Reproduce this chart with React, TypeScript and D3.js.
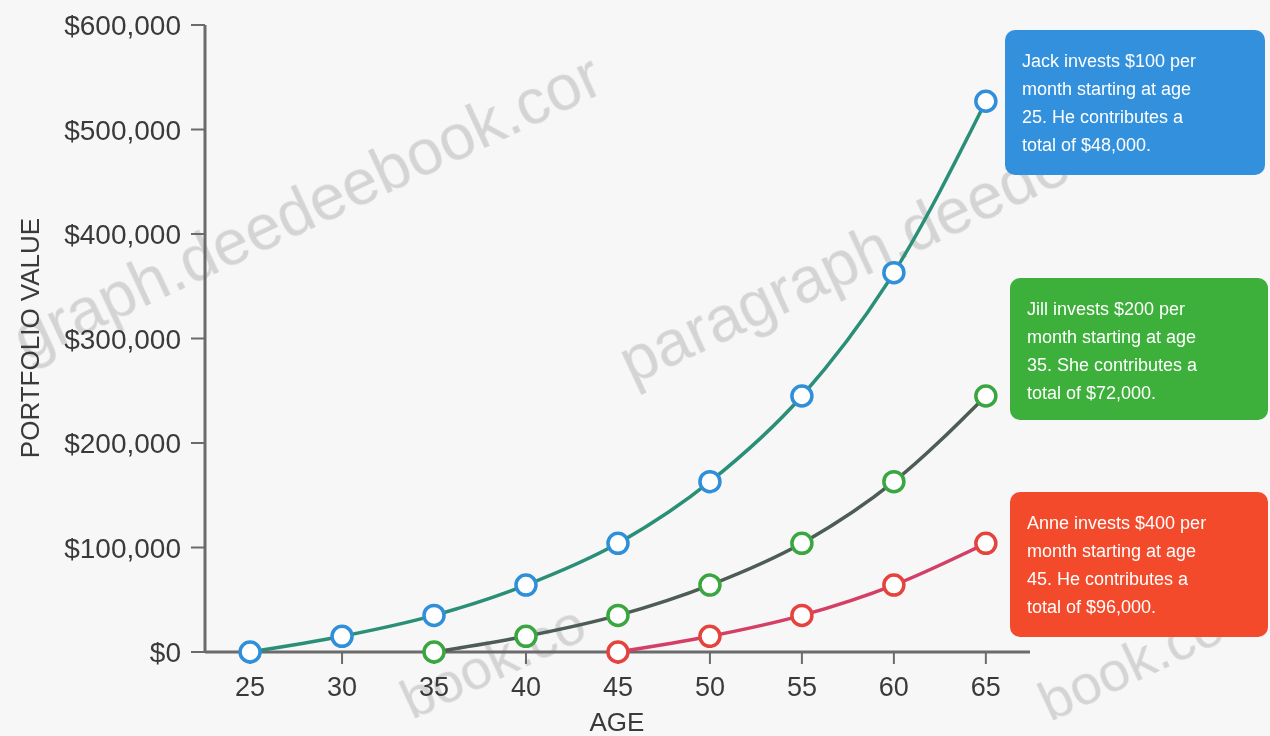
import React from "react";
import * as d3 from "d3";

const ages = [25, 30, 35, 40, 45, 50, 55, 60, 65];
const jackValues = [0, 15000, 35000, 64000, 104000, 163000, 245000, 363000, 527000];
const jillAges = [35, 40, 45, 50, 55, 60, 65];
const jillValues = [0, 15000, 35000, 64000, 104000, 163000, 245000];
const anneAges = [45, 50, 55, 60, 65];
const anneValues = [0, 15000, 35000, 64000, 104000];
const yTicks = [0, 100000, 200000, 300000, 400000, 500000, 600000];

const notes = [
  ["Jack invests $100 per", "month starting at age", "25. He contributes a", "total of $48,000."],
  ["Jill invests $200 per", "month starting at age", "35. She contributes a", "total of $72,000."],
  ["Anne invests $400 per", "month starting at age", "45. He contributes a", "total of $96,000."],
];

const W = 1270;
const H = 736;

export default function App() {
  const x = d3.scaleLinear().domain([22.55, 67.4]).range([205, 1030]);
  const y = d3.scaleLinear().domain([0, 600000]).range([652, 25]);
  const fmt = (v: number) => "$" + d3.format(",")(v);
  const line = d3
    .line<[number, number]>()
    .x((d) => x(d[0]))
    .y((d) => y(d[1]))
    .curve(d3.curveMonotoneX);

  const series = [
    { ages: ages, values: jackValues, line: "#2b8f78", marker: "#2f8fd8" },
    { ages: jillAges, values: jillValues, line: "#4d5c54", marker: "#3aa640" },
    { ages: anneAges, values: anneValues, line: "#d43f66", marker: "#e4433e" },
  ];

  const boxes = [
    { x: 1005, y: 30, w: 260, h: 145, fill: "#3390dc" },
    { x: 1010, y: 278, w: 258, h: 142, fill: "#3db03b" },
    { x: 1010, y: 492, w: 258, h: 145, fill: "#f44a2c" },
  ];

  const font = "'Liberation Sans', Arial, sans-serif";

  return (
    <svg
      width={W}
      height={H}
      style={{ position: "absolute", left: 0, top: 0, background: "#f7f7f7" }}
      fontFamily={font}
    >
      <rect x={0} y={0} width={W} height={H} fill="#f7f7f7" />
      {/* watermarks */}
      <g fill="#b8b8b8" opacity={0.55} fontSize={64}>
        <text transform="translate(26,362) rotate(-25)">graph.deedeebook.cor</text>
        <text transform="translate(632,385) rotate(-25)">paragraph.deedeeb</text>
        <text transform="translate(412,720) rotate(-25)" fontSize={56}>book.co</text>
        <text transform="translate(1050,722) rotate(-25)" fontSize={56}>book.co</text>
      </g>
      {/* y axis */}
      <line x1={205} x2={205} y1={y(600000)} y2={y(0)} stroke="#6b6b6b" strokeWidth={3} />
      {yTicks.map((t) => (
        <g key={t}>
          <line x1={191} x2={205} y1={y(t)} y2={y(t)} stroke="#6b6b6b" strokeWidth={2} />
          <text
            x={181}
            y={y(t)}
            dy="0.36em"
            textAnchor="end"
            fontSize={28}
            fill="#3a3a3a"
          >
            {fmt(t)}
          </text>
        </g>
      ))}
      <text
        transform="translate(39,338) rotate(-90)"
        textAnchor="middle"
        fontSize={26}
        fill="#3a3a3a"
      >
        PORTFOLIO VALUE
      </text>
      {/* x axis */}
      <line x1={205} x2={1030} y1={y(0)} y2={y(0)} stroke="#6b6b6b" strokeWidth={3} />
      {ages.map((a) => (
        <g key={a}>
          <line x1={x(a)} x2={x(a)} y1={y(0)} y2={y(0) + 12} stroke="#6b6b6b" strokeWidth={2} />
          <text x={x(a)} y={696} textAnchor="middle" fontSize={27} fill="#3a3a3a">
            {a}
          </text>
        </g>
      ))}
      <text x={617} y={731} textAnchor="middle" fontSize={26} fill="#3a3a3a">
        AGE
      </text>
      {/* series */}
      {series.map((s, i) => {
        const pts = s.ages.map((a, j) => [a, s.values[j]] as [number, number]);
        return (
          <g key={i}>
            <path d={line(pts) || ""} fill="none" stroke={s.line} strokeWidth={3.5} />
            {pts.map((p, j) => (
              <circle
                key={j}
                cx={x(p[0])}
                cy={y(p[1])}
                r={10}
                fill="#ffffff"
                stroke={s.marker}
                strokeWidth={3.5}
              />
            ))}
          </g>
        );
      })}
      {/* annotation boxes */}
      {boxes.map((b, i) => (
        <g key={i}>
          <rect x={b.x} y={b.y} width={b.w} height={b.h} rx={10} fill={b.fill} />
          {notes[i].map((t, j) => (
            <text
              key={j}
              x={b.x + 17}
              y={b.y + 37 + j * 28}
              fontSize={18}
              fill="#ffffff"
            >
              {t}
            </text>
          ))}
        </g>
      ))}
    </svg>
  );
}
